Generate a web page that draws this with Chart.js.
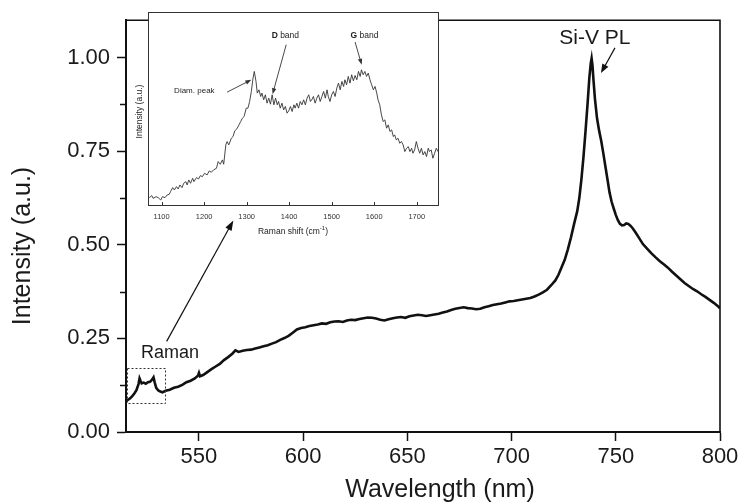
<!DOCTYPE html>
<html><head><meta charset="utf-8">
<script src="https://cdn.jsdelivr.net/npm/chart.js@4/dist/chart.umd.min.js"></script>
<style>
html,body{margin:0;padding:0;background:#fff;}
#wrap{position:relative;width:742px;height:504px;overflow:hidden;}
#main{position:absolute;left:0;top:0;width:742px;height:504px;}
#inset{position:absolute;left:126px;top:6px;width:320px;height:236px;}
</style></head><body>
<div id="wrap"><canvas id="main" width="742" height="504"></canvas><canvas id="inset" width="320" height="236"></canvas></div>
<script>
const FONT = "'Liberation Sans', Arial, Helvetica, sans-serif";

// Main PL spectrum: wavelength (nm) vs normalized intensity (a.u.)
const wavelength = [515,516,517,518,519,520,521,521.5,522,522.5,523.5,524.5,525.5,526.5,527.5,528.2,528.8,529.5,530.5,531.5,
532.5,534,536,538,540,542,544,546,548,549.5,550,550.5,552,554,556,558,560,562,564,566,
567.5,569,571,573,575,577,579,581,583,585,587,589,591,593,595,597,599,601,603,605,
607,609,611,613,615,617,619,621,623,625,627,629,631,633,635,637,639,641,643,645,
647,649,651,653,655,657,659,661,663,665,667,669,671,673,675,677,679,681,683,685,
687,689,691,693,695,697,699,701,703,705,707,709,711,713,715,717,719,721,722.5,724,
725.5,727,728.5,730,731.5,732.5,733.5,734.5,735.5,736.5,737.3,738,738.4,738.8,739.3,740,741,742,743,744,
745,746,747,748,749,750,751,752,753,754,755,756,757,758,759.5,761,763,765,767,769,
771,773,775,777,779,781,783,785,787,789,791,793,795,797,799,800];
const intensity = [0.082,0.086,0.090,0.096,0.103,0.112,0.128,0.143,0.136,0.130,0.132,0.129,0.133,0.134,0.140,0.146,0.132,0.118,0.111,0.108,
0.106,0.110,0.113,0.118,0.121,0.126,0.133,0.137,0.143,0.150,0.158,0.149,0.152,0.160,0.168,0.175,0.182,0.192,0.200,0.209,
0.218,0.214,0.217,0.219,0.220,0.223,0.226,0.229,0.232,0.236,0.240,0.246,0.251,0.257,0.265,0.274,0.278,0.280,0.283,0.285,
0.287,0.290,0.289,0.293,0.295,0.296,0.294,0.298,0.300,0.299,0.302,0.304,0.306,0.305,0.303,0.300,0.298,0.301,0.304,0.306,
0.307,0.305,0.309,0.311,0.313,0.312,0.310,0.312,0.314,0.316,0.319,0.322,0.326,0.329,0.331,0.333,0.331,0.330,0.328,0.329,
0.333,0.336,0.339,0.341,0.343,0.346,0.349,0.350,0.352,0.354,0.356,0.358,0.362,0.367,0.373,0.380,0.392,0.405,0.420,0.440,
0.460,0.488,0.520,0.556,0.590,0.625,0.675,0.735,0.805,0.880,0.945,0.985,0.998,0.980,0.940,0.890,0.838,0.805,0.778,0.745,
0.710,0.675,0.640,0.615,0.597,0.580,0.566,0.556,0.552,0.553,0.557,0.556,0.551,0.545,0.533,0.520,0.502,0.490,0.478,0.467,
0.457,0.448,0.439,0.428,0.418,0.408,0.398,0.390,0.382,0.376,0.368,0.361,0.353,0.345,0.336,0.330];

// Inset Raman spectrum: Raman shift (cm-1) vs intensity (arb. counts)
const ramanShift = [1071,1077,1080,1087,1092,1098,1102,1108,1113,1118,
1121,1126,1130,1135,1139,1143,1148,1152,1157,1160,
1164,1168,1173,1176,1182,1187,1191,1196,1201,1207,
1212,1217,1222,1229,1233,1238,1243,1246,1251,1254,
1258,1264,1268,1272,1277,1282,1286,1290,1294,1299,
1303,1307,1311,1315,1318,1322,1325,1329,1333,1336,
1340,1344,1348,1352,1356,1360,1364,1368,1372,1375,
1379,1383,1387,1391,1395,1399,1403,1407,1411,1414,
1418,1422,1426,1430,1434,1438,1442,1446,1450,1453,
1457,1461,1465,1469,1473,1477,1481,1485,1489,1492,
1496,1500,1504,1508,1512,1516,1520,1524,1528,1531,
1535,1539,1543,1547,1551,1555,1559,1563,1567,1570,
1574,1578,1582,1586,1590,1594,1598,1602,1606,1609,
1613,1617,1621,1625,1629,1633,1637,1641,1645,1648,
1652,1656,1660,1664,1668,1672,1676,1680,1684,1688,
1691,1695,1699,1703,1707,1711,1715,1719,1723,1727,
1730,1734,1738,1742,1746,1750];
const ramanIntensity = [22,28,20,25,22,15,25,22,30,32,
40,52,45,55,48,60,52,65,70,60,
75,65,80,70,82,78,88,85,95,90,
102,98,105,110,130,122,135,122,180,190,
180,200,205,222,228,240,250,260,265,290,
290,310,340,380,400,370,335,345,325,335,
315,330,305,320,302,330,300,320,300,310,
290,305,285,295,275,282,295,280,300,290,
305,290,310,300,315,300,320,330,310,315,
325,305,320,330,310,325,340,320,345,325,
310,330,340,325,350,365,345,370,355,375,
360,385,365,390,372,388,375,400,385,405,
390,400,385,395,375,360,345,355,335,315,
300,270,250,255,230,240,220,225,205,210,
195,200,185,190,180,160,170,175,160,170,
155,165,190,170,155,170,150,160,145,170,
160,165,140,155,170,160];

const mainYMinorTicks = [0.125, 0.375, 0.625, 0.875];
const insetXTicks = [1100,1200,1300,1400,1500,1600,1700];

function arrow(ctx, x1, y1, x2, y2, head, hw, lw, color) {
  const a = Math.atan2(y2 - y1, x2 - x1);
  ctx.save();
  ctx.strokeStyle = color; ctx.fillStyle = color; ctx.lineWidth = lw;
  ctx.beginPath(); ctx.moveTo(x1, y1);
  ctx.lineTo(x2 - Math.cos(a) * head * 0.8, y2 - Math.sin(a) * head * 0.8); ctx.stroke();
  ctx.beginPath(); ctx.moveTo(x2, y2);
  ctx.lineTo(x2 - Math.cos(a) * head + Math.sin(a) * hw, y2 - Math.sin(a) * head - Math.cos(a) * hw);
  ctx.lineTo(x2 - Math.cos(a) * head - Math.sin(a) * hw, y2 - Math.sin(a) * head + Math.cos(a) * hw);
  ctx.closePath(); ctx.fill();
  ctx.restore();
}

const mainDecor = {
  id: 'mainDecor',
  afterDraw(chart) {
    const {ctx, chartArea: ca, scales: {x, y}} = chart;
    ctx.save();
    ctx.strokeStyle = '#111'; ctx.lineWidth = 1.6;
    ctx.beginPath();
    ctx.moveTo(ca.left, ca.top); ctx.lineTo(ca.right, ca.top); ctx.lineTo(ca.right, ca.bottom);
    ctx.stroke();
    ctx.lineWidth = 1.5;
    mainYMinorTicks.forEach(v => {
      const py = Math.round(y.getPixelForValue(v)) + 0.5;
      ctx.beginPath(); ctx.moveTo(ca.left - 6, py); ctx.lineTo(ca.left, py); ctx.stroke();
    });
    ctx.fillStyle = '#1a1a1a';
    ctx.font = '25px ' + FONT;
    ctx.textAlign = 'center'; ctx.textBaseline = 'middle';
    ctx.fillText('Wavelength (nm)', 440, 490);
    ctx.save(); ctx.translate(23, 246); ctx.rotate(-Math.PI / 2);
    ctx.fillText('Intensity (a.u.)', 0, 0); ctx.restore();
    ctx.font = '21px ' + FONT;
    ctx.fillText('Si-V PL', x.getPixelForValue(740), y.getPixelForValue(1.052));
    arrow(ctx, x.getPixelForValue(749.6), y.getPixelForValue(1.026), x.getPixelForValue(742.9), y.getPixelForValue(0.959), 9, 3.5, 1.2, '#111');
    ctx.font = '18px ' + FONT;
    ctx.fillText('Raman', x.getPixelForValue(536.1), y.getPixelForValue(0.212));
    arrow(ctx, x.getPixelForValue(534.5), y.getPixelForValue(0.242), x.getPixelForValue(566.5), y.getPixelForValue(0.565), 10, 3.5, 1.2, '#111');
    ctx.setLineDash([2, 2]); ctx.lineWidth = 1; ctx.strokeStyle = '#333';
    const bx1 = x.getPixelForValue(515.6), bx2 = x.getPixelForValue(533.7);
    const by1 = y.getPixelForValue(0.171), by2 = y.getPixelForValue(0.078);
    ctx.strokeRect(Math.round(bx1) + 0.5, Math.round(by1) + 0.5, Math.round(bx2 - bx1), Math.round(by2 - by1));
    ctx.restore();
  }
};

new Chart(document.getElementById('main'), {
  type: 'line',
  data: { datasets: [{
    data: wavelength.map((w, i) => ({x: w, y: intensity[i]})),
    borderColor: '#111', borderWidth: 2.6, pointRadius: 0, tension: 0, fill: false
  }]},
  options: {
    responsive: false, animation: false, events: [],
    layout: {padding: {top: 7, right: 22, left: 0, bottom: 0}},
    plugins: {legend: {display: false}, tooltip: {enabled: false}},
    scales: {
      x: {
        type: 'linear', min: 515, max: 800,
        afterFit(s) { s.height = 72; },
        border: {display: true, color: '#111', width: 2},
        grid: {display: true, drawOnChartArea: false, drawTicks: true, tickLength: 9, tickWidth: 1.5, tickColor: '#111'},
        ticks: {stepSize: 50, includeBounds: false, padding: 3, color: '#1a1a1a', maxRotation: 0, autoSkip: false,
          font: {family: FONT, size: 22}, callback: v => String(v)}
      },
      y: {
        type: 'linear', min: 0, max: 1.1,
        afterFit(s) { s.width = 126; },
        border: {display: true, color: '#111', width: 2},
        grid: {display: true, drawOnChartArea: false, drawTicks: true, tickLength: 9, tickWidth: 1.5, tickColor: '#111'},
        ticks: {stepSize: 0.25, includeBounds: false, padding: 7, color: '#1a1a1a',
          font: {family: FONT, size: 22}, callback: v => Number(v).toFixed(2)}
      }
    }
  },
  plugins: [mainDecor]
});

const insetDecor = {
  id: 'insetDecor',
  beforeDraw(chart) {
    const {ctx, chartArea: ca} = chart;
    ctx.save(); ctx.fillStyle = '#fff';
    ctx.fillRect(ca.left, ca.top, ca.right - ca.left, ca.bottom - ca.top);
    ctx.restore();
  },
  afterDraw(chart) {
    const {ctx, chartArea: ca, scales: {x, y}} = chart;
    ctx.save();
    ctx.strokeStyle = '#333'; ctx.lineWidth = 1;
    ctx.strokeRect(Math.round(ca.left) + 0.5, Math.round(ca.top) + 0.5, Math.round(ca.right - ca.left), Math.round(ca.bottom - ca.top));
    insetXTicks.forEach(v => {
      const px = Math.round(x.getPixelForValue(v)) + 0.5;
      ctx.beginPath(); ctx.moveTo(px, ca.bottom); ctx.lineTo(px, ca.bottom - 3); ctx.stroke();
    });
    ctx.fillStyle = '#222';
    ctx.textBaseline = 'middle';
    const cx = (ca.left + ca.right) / 2, ty = 226;
    const t1 = 'Raman shift (cm', t2 = '-1', t3 = ')';
    ctx.font = '8.5px ' + FONT; const w1 = ctx.measureText(t1).width, w3 = ctx.measureText(t3).width;
    ctx.font = '6px ' + FONT; const w2 = ctx.measureText(t2).width;
    const sx = cx - (w1 + w2 + w3) / 2;
    ctx.textAlign = 'left';
    ctx.font = '8.5px ' + FONT; ctx.fillText(t1, sx, ty);
    ctx.font = '6px ' + FONT; ctx.fillText(t2, sx + w1, ty - 3.5);
    ctx.font = '8.5px ' + FONT; ctx.fillText(t3, sx + w1 + w2, ty);
    ctx.textAlign = 'center';
    ctx.save(); ctx.translate(14, (ca.top + ca.bottom) / 2 + 3); ctx.rotate(-Math.PI / 2);
    ctx.font = '8.5px ' + FONT; ctx.fillText('Intensity (a.u.)', 0, 0); ctx.restore();
    ctx.font = '8px ' + FONT;
    ctx.fillText('Diam. peak', x.getPixelForValue(1177), y.getPixelForValue(342));
    arrow(ctx, x.getPixelForValue(1254), y.getPixelForValue(338), x.getPixelForValue(1311), y.getPixelForValue(375), 6, 2.2, 0.9, '#333');
    function bandLabel(letter, cm, val) {
      ctx.font = 'bold 8.5px ' + FONT; const wb = ctx.measureText(letter).width;
      ctx.font = '8.5px ' + FONT; const wn = ctx.measureText(' band').width;
      const sx2 = x.getPixelForValue(cm) - (wb + wn) / 2, py = y.getPixelForValue(val);
      ctx.textAlign = 'left';
      ctx.font = 'bold 8.5px ' + FONT; ctx.fillText(letter, sx2, py);
      ctx.font = '8.5px ' + FONT; ctx.fillText(' band', sx2 + wb, py);
      ctx.textAlign = 'center';
    }
    bandLabel('D', 1391, 508);
    arrow(ctx, x.getPixelForValue(1393), y.getPixelForValue(480), x.getPixelForValue(1361), y.getPixelForValue(332), 6, 2.2, 0.9, '#333');
    bandLabel('G', 1577, 508);
    arrow(ctx, x.getPixelForValue(1555), y.getPixelForValue(488), x.getPixelForValue(1570.5), y.getPixelForValue(420), 6, 2.2, 0.9, '#333');
    ctx.restore();
  }
};

new Chart(document.getElementById('inset'), {
  type: 'line',
  data: { datasets: [{
    data: ramanShift.map((c, i) => ({x: c, y: ramanIntensity[i]})),
    borderColor: '#333', borderWidth: 0.9, pointRadius: 0, tension: 0, fill: false
  }]},
  options: {
    responsive: false, animation: false, events: [],
    layout: {padding: {top: 6, right: 8, left: 0, bottom: 0}},
    plugins: {legend: {display: false}, tooltip: {enabled: false}},
    scales: {
      x: {
        type: 'linear', min: 1068, max: 1750,
        afterFit(s) { s.height = 37; },
        border: {display: false},
        grid: {display: false, drawTicks: false},
        ticks: {stepSize: 100, includeBounds: false, padding: 7, color: '#333', maxRotation: 0, autoSkip: false,
          font: {family: FONT, size: 7.5}, callback: v => String(v)}
      },
      y: {
        type: 'linear', min: 0, max: 578,
        afterFit(s) { s.width = 22; },
        border: {display: false},
        grid: {display: false, drawTicks: false},
        ticks: {display: false}
      }
    }
  },
  plugins: [insetDecor]
});
</script>
</body></html>
